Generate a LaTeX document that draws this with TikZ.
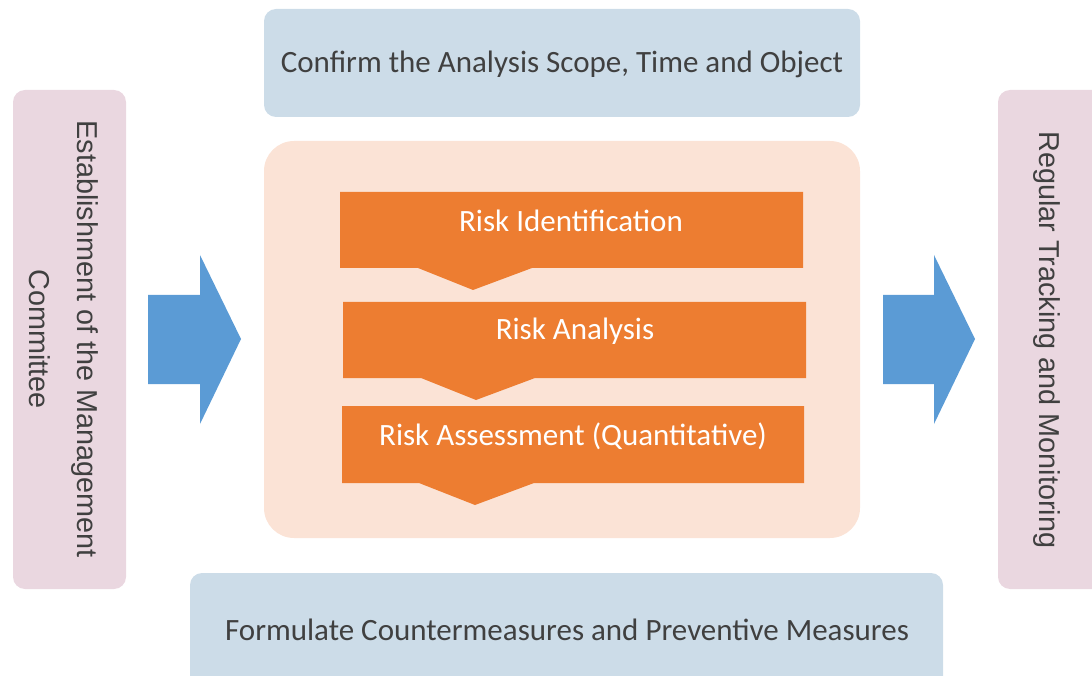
\documentclass[tikz,border=0pt]{standalone}
\usepackage{fontspec}
\setmainfont{Carlito}
\newfontfamily\sidefont{Liberation Sans}
\definecolor{lblue}{HTML}{CCDCE8}
\definecolor{lpink}{HTML}{EAD7E0}
\definecolor{peach}{HTML}{FBE3D6}
\definecolor{orng}{HTML}{ED7D31}
\definecolor{arrblue}{HTML}{5B9BD5}
\definecolor{txt}{HTML}{404040}
\begin{document}
\begin{tikzpicture}[x=1pt,y=-1pt,
  bluebox/.style={fill=lblue,rounded corners=12pt},
  pinkbox/.style={fill=lpink,rounded corners=12pt},
  toptext/.style={text=txt,font=\fontsize{31}{36}\selectfont},
  sidetext/.style={text=txt,font=\sidefont\fontsize{28.8}{48}\selectfont,align=center,rotate=-90},
  steptext/.style={text=white,font=\fontsize{31}{36}\selectfont},
  stepshape/.style={fill=orng},
  bigarrow/.style={fill=arrblue}]
\useasboundingbox (0,0) rectangle (1092,676);
% top and bottom boxes
\fill[bluebox] (264,9) rectangle (860,117);
\node[toptext] (scope) at (562,64) {Confirm the Analysis Scope, Time and Object};
\fill[bluebox] (190,573) rectangle (943,700);
\node[toptext] (measures) at (567,630) {Formulate Countermeasures and Preventive Measures};
% side boxes
\fill[pinkbox] (13,90) rectangle (126,589);
\node[sidetext] (committee) at (64,339) {Establishment of the Management\\Committee};
\fill[pinkbox] (998,90) rectangle (1110,589);
\node[sidetext] (tracking) at (1047,340) {Regular Tracking and Monitoring};
% center panel
\fill[peach,rounded corners=30pt] (264,141) rectangle (860,538);
% steps
\fill[stepshape] (340,192) -- (803,192) -- (803,268) -- (532,268) -- (473,290) -- (418,268) -- (340,268) -- cycle;
\node[steptext] (ident) at (571,221) {Risk Identification};
\fill[stepshape] (343,302) -- (806,302) -- (806,378) -- (535,378) -- (476,400) -- (421,378) -- (343,378) -- cycle;
\node[steptext] (anal) at (575,331) {Risk Analysis};
\fill[stepshape] (342,406) -- (804,406) -- (804,483) -- (534,483) -- (475,505) -- (419,483) -- (342,483) -- cycle;
\node[steptext] (assess) at (573,436) {Risk Assessment (Quantitative)};
% arrows
\fill[bigarrow] (148,295) -- (200,295) -- (200,255) -- (241,339) -- (200,424) -- (200,384) -- (148,384) -- cycle;
\fill[bigarrow] (883,295) -- (934,295) -- (934,255) -- (975,339) -- (934,424) -- (934,384) -- (883,384) -- cycle;
\end{tikzpicture}
\end{document}
